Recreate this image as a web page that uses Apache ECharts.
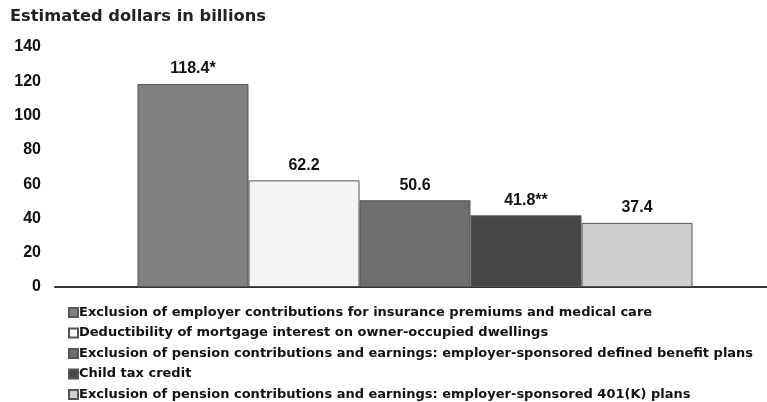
<!DOCTYPE html>
<html>
<head>
<meta charset="utf-8">
<script src="https://cdn.jsdelivr.net/npm/echarts@6/dist/echarts.min.js"></script>
<style>
  html, body { margin: 0; padding: 0; background: #fff; }
  #chart { width: 767px; height: 402px; }
</style>
</head>
<body>
<div id="chart"></div>
<script>
// tax expenditures, estimated dollars in billions
var seriesNames = [
  'Exclusion of employer contributions for insurance premiums and medical care',
  'Deductibility of mortgage interest on owner-occupied dwellings',
  'Exclusion of pension contributions and earnings: employer-sponsored defined benefit plans',
  'Child tax credit',
  'Exclusion of pension contributions and earnings: employer-sponsored 401(K) plans'
]
var values = [118.4, 62.2, 50.6, 41.8, 37.4]
var valueLabels = ['118.4*', '62.2', '50.6', '41.8**', '37.4']
var barColors = ['#808080', '#f5f5f5', '#6e6e6e', '#464646', '#cfcfcf']
var yTicks = [0, 20, 40, 60, 80, 100, 120, 140]

var font = '"Liberation Sans", Arial, sans-serif'
var wideFont = '"DejaVu Sans", Verdana, sans-serif'
var chart = echarts.init(document.getElementById('chart'))

var series = []
for (var i = 0; i < seriesNames.length; i++) {
  series.push({
    name: seriesNames[i],
    type: 'bar',
    data: [values[i]],
    barGap: '0%',
    barWidth: 111,
    itemStyle: {
      color: barColors[i],
      borderColor: '#555555',
      borderWidth: 1
    },
    label: {
      show: true,
      position: 'top',
      distance: 7,
      formatter: (function (t) { return function () { return t } })(valueLabels[i]),
      fontFamily: font,
      fontWeight: 'bold',
      fontSize: 16,
      color: '#111'
    }
  })
}

chart.setOption({
  animation: false,
  title: {
    text: 'Estimated dollars in billions',
    left: 5,
    top: 4,
    textStyle: {
      fontFamily: wideFont,
      fontWeight: 'bold',
      fontSize: 16.3,
      color: '#222'
    }
  },
  grid: {
    left: 55,
    right: -8,
    top: 47,
    bottom: 115,
    containLabel: false,
    outerBoundsMode: 'none'
  },
  xAxis: {
    type: 'category',
    data: [''],
    axisTick: { show: false },
    axisLabel: { show: false },
    axisLine: { lineStyle: { color: '#333', width: 2 } }
  },
  yAxis: {
    type: 'value',
    min: yTicks[0],
    max: yTicks[yTicks.length - 1],
    interval: 20,
    splitLine: { show: false },
    axisLine: { show: false },
    axisTick: { show: false },
    axisLabel: {
      margin: 14,
      fontFamily: font,
      fontWeight: 'bold',
      fontSize: 16,
      color: '#111'
    }
  },
  legend: {
    orient: 'vertical',
    left: 63,
    top: 301,
    height: 120,
    icon: 'rect',
    itemWidth: 9,
    itemHeight: 9,
    itemGap: 7.5,
    selectedMode: false,
    textStyle: {
      fontFamily: wideFont,
      fontWeight: 'bold',
      fontSize: 13,
      color: '#111',
      padding: [0, 0, 0, -4]
    }
  },
  series: series
})
</script>
</body>
</html>
